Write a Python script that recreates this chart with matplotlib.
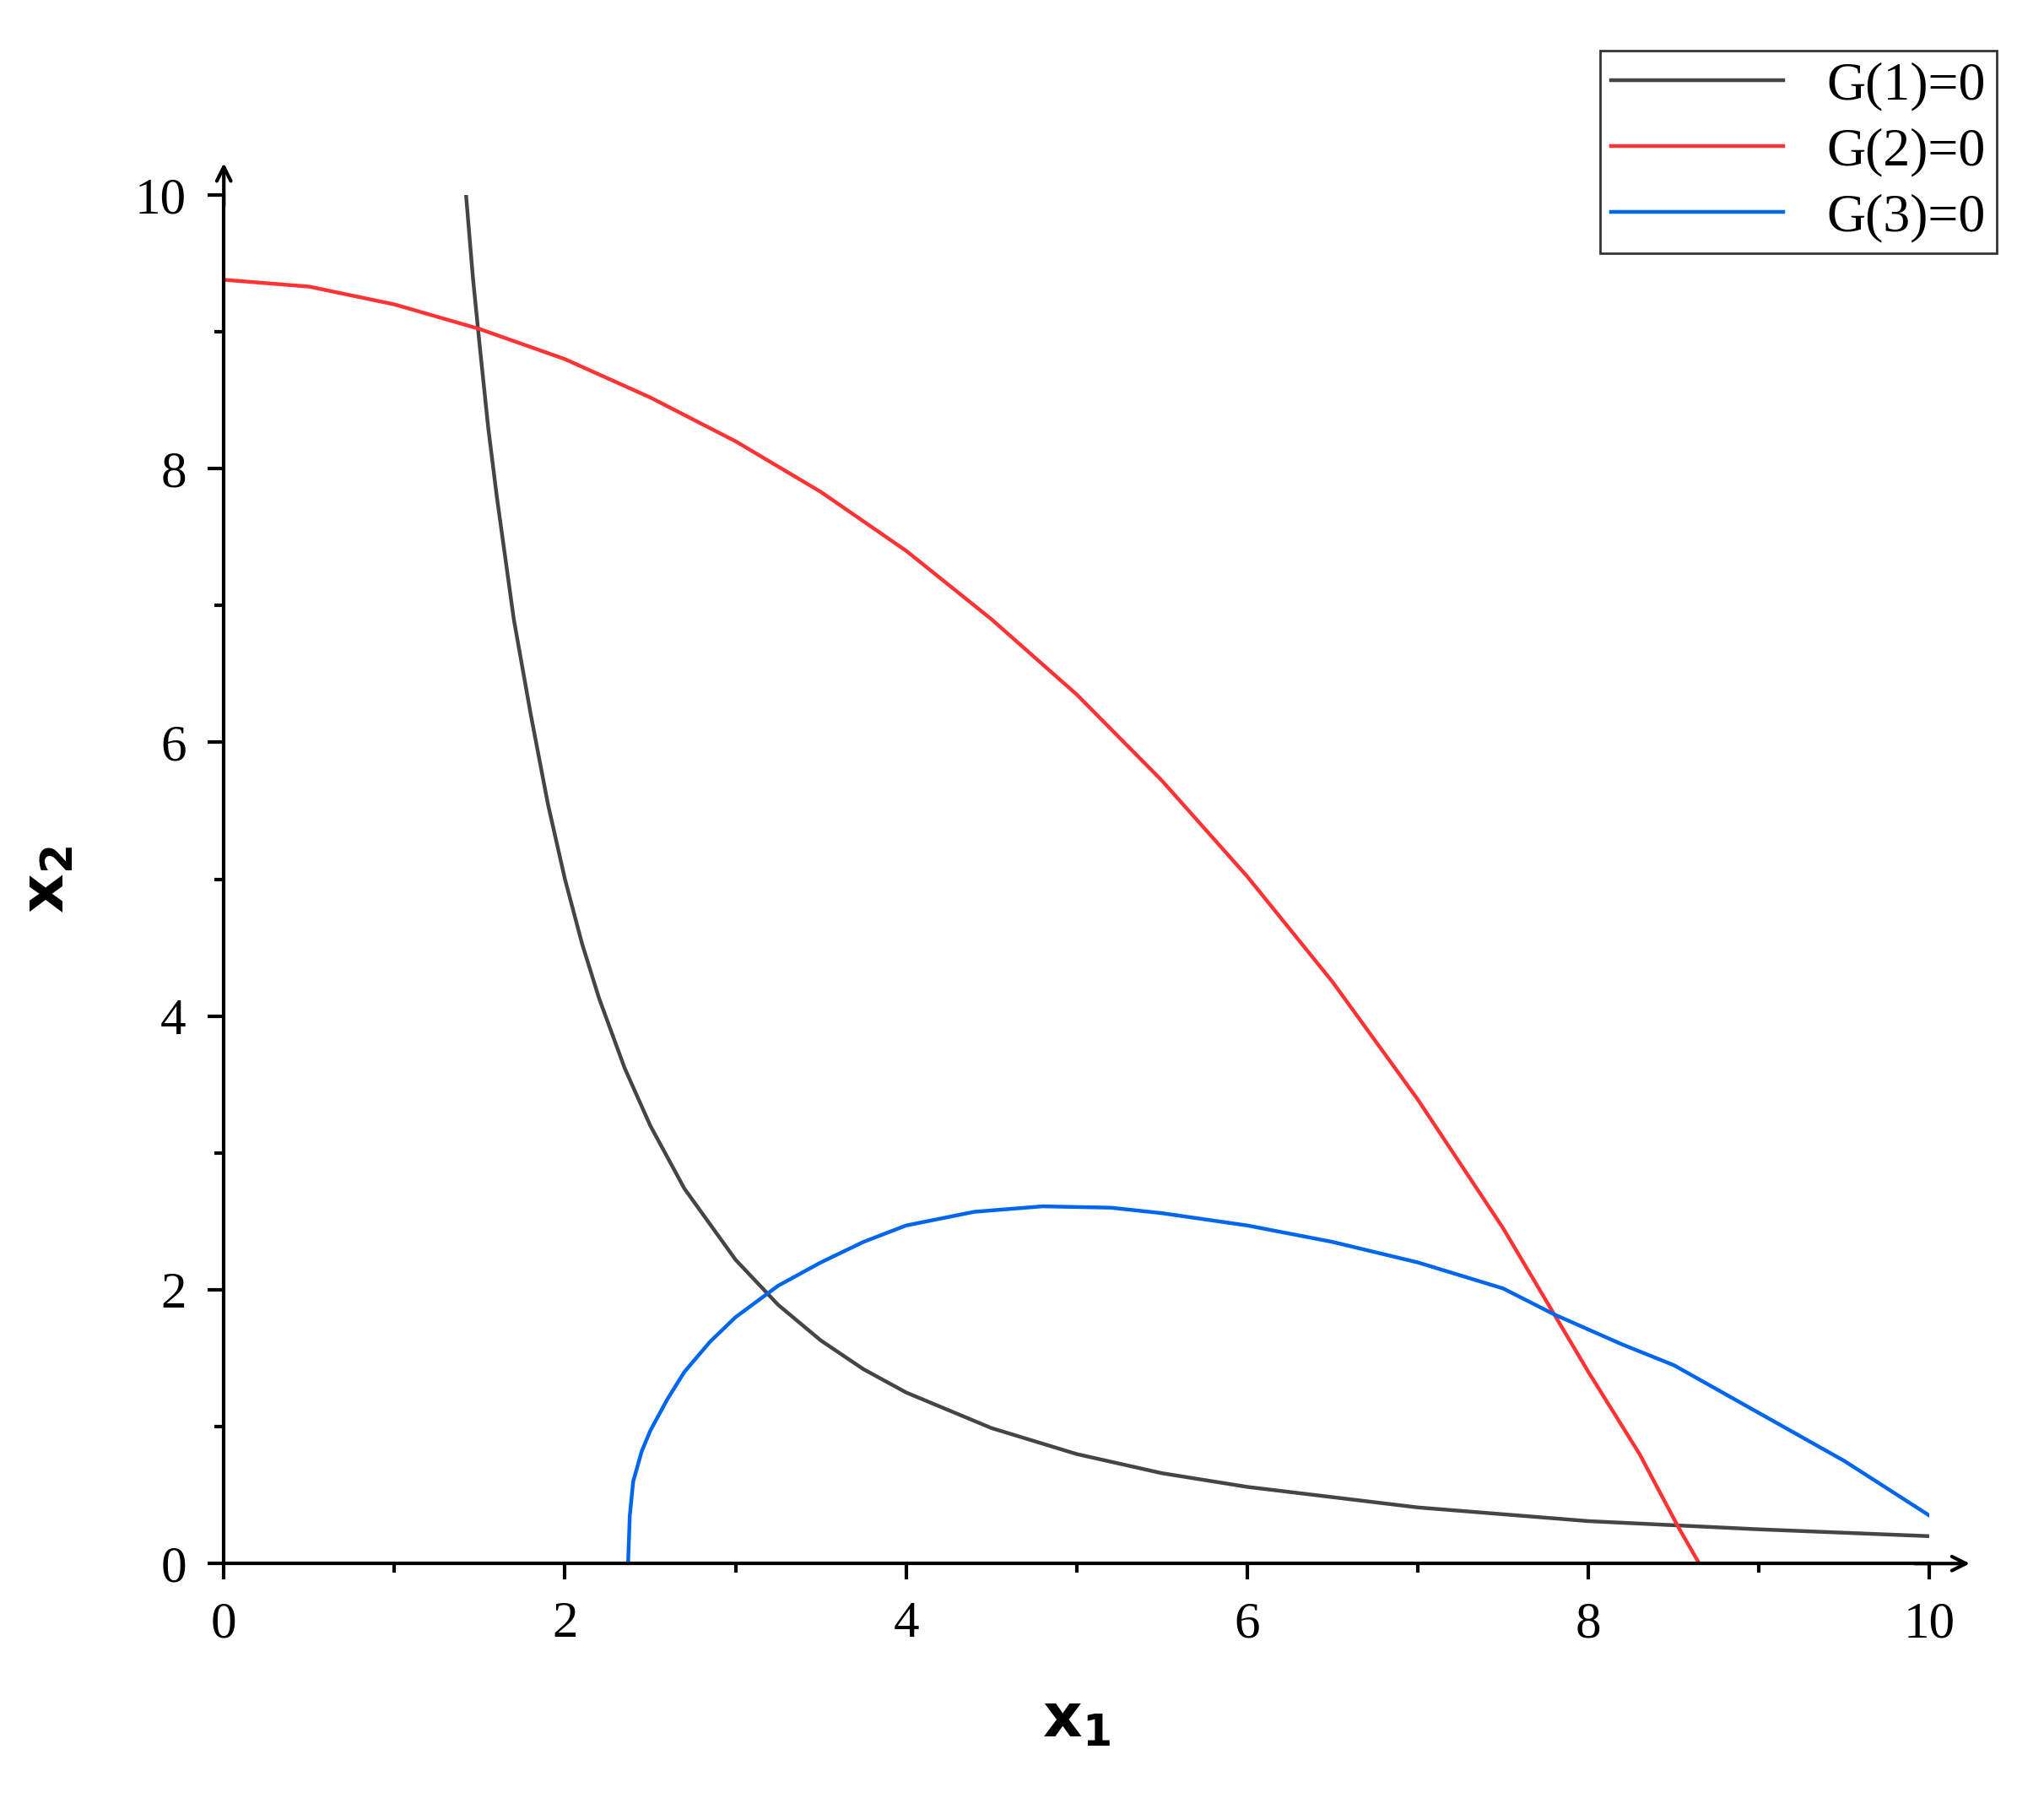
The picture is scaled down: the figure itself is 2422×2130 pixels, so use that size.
import matplotlib
matplotlib.use("Agg")
import matplotlib.pyplot as plt

g1_x = [1.42, 1.46, 1.5, 1.55, 1.6, 1.7, 1.8, 1.9, 2.0, 2.1, 2.2, 2.35, 2.5, 2.7, 3.0, 3.25, 3.5, 3.75, 4.0, 4.5, 5.0, 5.5, 6.0, 7.0, 8.0, 9.0, 10.0]
g1_y = [10.0, 9.4, 8.9, 8.3, 7.8, 6.9, 6.2, 5.55, 5.0, 4.53, 4.13, 3.62, 3.2, 2.74, 2.22, 1.89, 1.63, 1.42, 1.25, 0.99, 0.8, 0.66, 0.56, 0.41, 0.31, 0.25, 0.2]
g2_x = [0.0, 0.5, 1.0, 1.5, 2.0, 2.5, 3.0, 3.5, 4.0, 4.5, 5.0, 5.5, 6.0, 6.5, 7.0, 7.5, 7.8, 8.0, 8.3, 8.53, 8.65]
g2_y = [9.38, 9.33, 9.2, 9.02, 8.8, 8.52, 8.2, 7.83, 7.4, 6.9, 6.35, 5.72, 5.02, 4.25, 3.39, 2.45, 1.82, 1.4, 0.8, 0.26, 0.0]
g3_x = [2.37, 2.38, 2.4, 2.45, 2.5, 2.6, 2.7, 2.85, 3.0, 3.25, 3.5, 3.75, 4.0, 4.4, 4.8, 5.2, 5.5, 6.0, 6.5, 7.0, 7.5, 7.8, 8.2, 8.5, 9.0, 9.5, 10.0]
g3_y = [0.0, 0.35, 0.6, 0.82, 0.97, 1.2, 1.4, 1.62, 1.8, 2.03, 2.2, 2.35, 2.47, 2.57, 2.61, 2.6, 2.56, 2.47, 2.35, 2.2, 2.01, 1.82, 1.6, 1.45, 1.1, 0.75, 0.35]
labels = ["G(1)=0", "G(2)=0", "G(3)=0"]
colors = ["#454545", "#ff3333", "#0066ee"]

plt.rcParams['font.family'] = ['Liberation Serif', 'DejaVu Serif']
fig = plt.figure(figsize=(24.22, 21.30), dpi=100)
ax = fig.add_axes([0.1095, 0.1304, 0.8345, 0.7612])
for xs, ys, lab, c in zip([g1_x, g2_x, g3_x], [g1_y, g2_y, g3_y], labels, colors):
    ax.plot(xs, ys, color=c, lw=3.2, label=lab)
ax.set_xlim(0, 10)
ax.set_ylim(0, 10)
for s in ['top', 'right']:
    ax.spines[s].set_visible(False)
for s in ['left', 'bottom']:
    ax.spines[s].set_linewidth(3)
ax.set_xticks([0, 2, 4, 6, 8, 10])
ax.set_yticks([0, 2, 4, 6, 8, 10])
ax.set_xticks([1, 3, 5, 7, 9], minor=True)
ax.set_yticks([1, 3, 5, 7, 9], minor=True)
ax.tick_params(which='major', direction='out', length=14, width=3, labelsize=44, pad=18)
ax.tick_params(which='minor', direction='out', length=8, width=3)
ax.annotate('', xy=(1.025, 0), xycoords='axes fraction', xytext=(0.99, 0),
            arrowprops=dict(arrowstyle='->,head_length=1.2,head_width=0.6', lw=3, color='black'))
ax.annotate('', xy=(0, 1.025), xycoords='axes fraction', xytext=(0, 0.99),
            arrowprops=dict(arrowstyle='->,head_length=1.2,head_width=0.6', lw=3, color='black'))
ax.set_xlabel(r'$\mathbf{x_1}$', fontsize=52, labelpad=40)
ax.set_ylabel(r'$\mathbf{x_2}$', fontsize=52, labelpad=50)
leg = ax.legend(loc='upper right', bbox_to_anchor=(1.055, 1.125), fontsize=46, frameon=True,
                fancybox=False, edgecolor='black', handlelength=3.2, borderpad=0.2, labelspacing=0.3)
leg.get_frame().set_linewidth(2)
fig.savefig('out.png', dpi=100)
